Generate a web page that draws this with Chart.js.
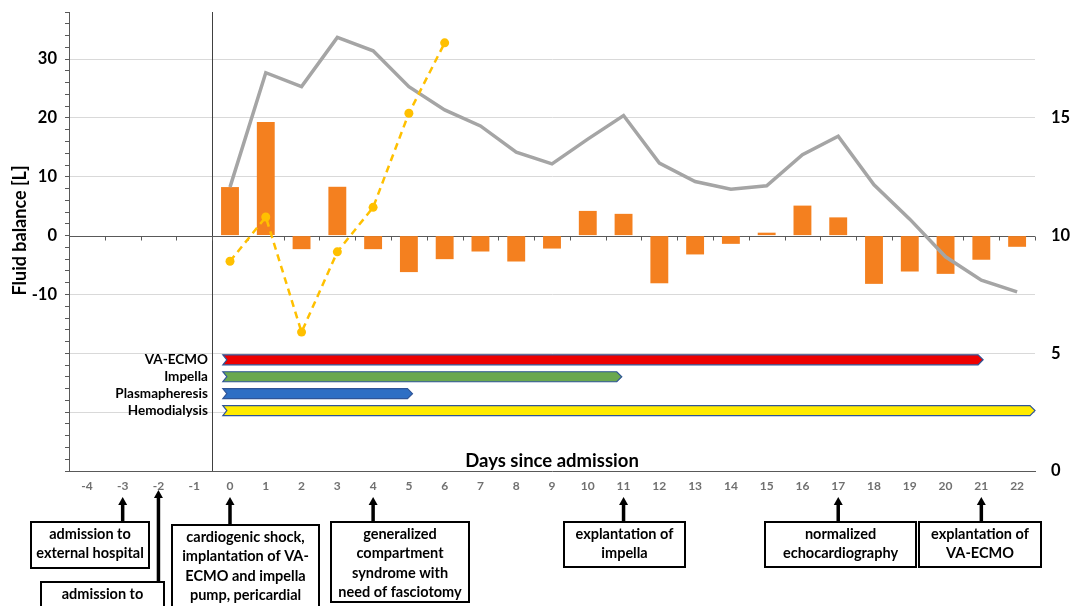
<!DOCTYPE html>
<html>
<head>
<meta charset="utf-8">
<script src="https://cdn.jsdelivr.net/npm/chart.js@4.4.1/dist/chart.umd.min.js"></script>
<style>
  html, body { margin: 0; padding: 0; background: #fff; }
  canvas { display: block; }
</style>
</head>
<body>
<canvas id="myChart" width="1071" height="606"></canvas>
<script>
// days since admission
const days = [-4, -3, -2, -1, 0, 1, 2, 3, 4, 5, 6, 7, 8, 9, 10, 11, 12, 13, 14, 15, 16, 17, 18, 19, 20, 21, 22];

// daily fluid balance [L] (left axis)
const fluidBalance = [null, null, null, null,
  8.25, 19.3, -2.3, 8.3, -2.3, -6.2, -4.0, -2.7, -4.4, -2.2, 4.2, 3.7,
  -8.1, -3.2, -1.4, 0.5, 5.1, 3.1, -8.2, -6.1, -6.5, -4.1, -1.9];

// grey line (right axis)
const greySeries = [null, null, null, null,
  12.06, 16.92, 16.33, 18.42, 17.85, 16.33, 15.34, 14.66, 13.55, 13.05, 14.1, 15.1,
  13.08, 12.3, 11.97, 12.12, 13.44, 14.22, 12.16, 10.7, 9.1, 8.11, 7.61];

// dashed yellow line (right axis)
const yellowSeries = [null, null, null, null,
  8.91, 10.79, 5.9, 9.31, 11.2, 15.2, 18.19, null, null, null, null, null,
  null, null, null, null, null, null, null, null, null, null, null];

// therapies shown as arrows (start / end in days)
const therapies = ["VA-ECMO", "Impella", "Plasmapheresis", "Hemodialysis"];
const therapyStart = [-0.2, -0.2, -0.2, -0.2];
const therapyEnd = [21.05, 10.95, 5.1, 22.5];
const therapyColors = ["#EE0000", "#6AA84F", "#2E6FC4", "#FFEB00"];

// events marked under the axis
const eventDays = [-3, -2, 0, 4, 11, 17, 21];
const eventText = [
  ["admission to", "external hospital"],
  ["admission to"],
  ["cardiogenic shock,", "implantation of VA-", "ECMO and impella", "pump, pericardial"],
  ["generalized", "compartment", "syndrome with", "need of fasciotomy"],
  ["explantation of", "impella"],
  ["normalized", "echocardiography"],
  ["explantation of", "VA-ECMO"]
];

// box layout for the event notes: left, top, width, height, arrow tip y
const eventBoxes = [
  [31, 522, 118, 46, 497],
  [41, 582, 123, 60, 490],
  [172, 525, 147, 100, 497],
  [331, 522, 138, 80, 497],
  [564, 522, 121, 45, 497],
  [765, 522, 151, 45, 497],
  [919, 522, 122, 45, 497]
];

Chart.defaults.font.family = "Lato, 'Open Sans', sans-serif";

function dayPixel(xs, d) {
  const i0 = days.indexOf(0);
  const step = xs.getPixelForValue(1) - xs.getPixelForValue(0);
  return xs.getPixelForValue(i0) + d * step;
}

const overlay = {
  id: "overlay",
  beforeDatasetsDraw(chart) {
    const ctx = chart.ctx;
    const xs = chart.scales.x;
    const ys = chart.scales.y;
    const area = chart.chartArea;
    const step = xs.getPixelForValue(1) - xs.getPixelForValue(0);

    ctx.save();
    // vertical line between day -1 and day 0
    const vx = Math.round(dayPixel(xs, -0.5)) + 0.5;
    ctx.strokeStyle = "#404040";
    ctx.lineWidth = 1;
    ctx.beginPath();
    ctx.moveTo(vx, area.top);
    ctx.lineTo(vx, area.bottom);
    ctx.stroke();

    // zero line with tick marks
    const zy = Math.round(ys.getPixelForValue(0)) + 0.5;
    ctx.strokeStyle = "#595959";
    ctx.beginPath();
    ctx.moveTo(area.left, zy);
    ctx.lineTo(area.right, zy);
    for (let i = 0; i <= days.length; i++) {
      const tx = Math.round(xs.getPixelForValue(0) - step / 2 + i * step) + 0.5;
      ctx.moveTo(tx, zy);
      ctx.lineTo(tx, zy + 4);
    }
    ctx.stroke();

    // axis titles
    ctx.fillStyle = "#000";
    ctx.font = "bold 18.5px Lato, sans-serif";
    ctx.textAlign = "center";
    ctx.textBaseline = "middle";
    ctx.fillText("Days since admission", (area.left + area.right) / 2, area.bottom - 10);

    ctx.save();
    ctx.translate(20, (area.top + area.bottom) / 2 - 11);
    ctx.rotate(-Math.PI / 2);
    ctx.font = "bold 18px Lato, sans-serif";
    ctx.fillText("Fluid balance [L]", 0, 0);
    ctx.restore();

    // therapy arrows
    therapies.forEach((name, i) => {
      const cy = ys.getPixelForValue(-21.1 - 2.88 * i);
      const h = 10;
      const x0 = dayPixel(xs, therapyStart[i]);
      const x1 = dayPixel(xs, therapyEnd[i]);
      ctx.beginPath();
      ctx.moveTo(x0, cy - h / 2);
      ctx.lineTo(x1 - 5, cy - h / 2);
      ctx.lineTo(x1, cy);
      ctx.lineTo(x1 - 5, cy + h / 2);
      ctx.lineTo(x0, cy + h / 2);
      ctx.lineTo(x0 + 4, cy);
      ctx.closePath();
      ctx.fillStyle = therapyColors[i];
      ctx.fill();
      ctx.strokeStyle = "#2F5597";
      ctx.lineWidth = 1.2;
      ctx.stroke();

      ctx.fillStyle = "#000";
      ctx.font = "bold 13.5px Lato, sans-serif";
      ctx.textAlign = "right";
      ctx.fillText(name, x0 - 15, cy);
    });
    ctx.restore();
  },
  afterDraw(chart) {
    const ctx = chart.ctx;
    const xs = chart.scales.x;
    ctx.save();
    eventDays.forEach((d, i) => {
      const [bx, by, bw, bh, tip] = eventBoxes[i];
      const ax = dayPixel(xs, d);
      // arrow
      ctx.strokeStyle = "#000";
      ctx.fillStyle = "#000";
      ctx.lineWidth = 3.5;
      ctx.beginPath();
      ctx.moveTo(ax, by);
      ctx.lineTo(ax, tip + 6);
      ctx.stroke();
      ctx.beginPath();
      ctx.moveTo(ax, tip);
      ctx.lineTo(ax - 4.5, tip + 8);
      ctx.lineTo(ax + 4.5, tip + 8);
      ctx.closePath();
      ctx.fill();
      // box
      ctx.fillStyle = "#fff";
      ctx.fillRect(bx, by, bw, bh);
      ctx.lineWidth = 2;
      ctx.strokeStyle = "#000";
      ctx.strokeRect(bx, by, bw, bh);
      // text
      ctx.fillStyle = "#000";
      ctx.font = "bold 14.5px Lato, sans-serif";
      ctx.textAlign = "center";
      ctx.textBaseline = "middle";
      eventText[i].forEach((line, j) => {
        ctx.fillText(line, bx + bw / 2, by + 12 + j * 19.5);
      });
    });
    ctx.restore();
  }
};

const config = {
  type: "bar",
  data: {
    labels: days,
    datasets: [
      {
        type: "line",
        data: yellowSeries,
        yAxisID: "y1",
        borderColor: "#FFC000",
        backgroundColor: "#FFC000",
        borderWidth: 2.5,
        borderDash: [7, 5],
        pointRadius: 4.5,
        pointBorderWidth: 0,
        pointBackgroundColor: "#FFC000",
        order: 0
      },
      {
        type: "line",
        data: greySeries,
        yAxisID: "y1",
        borderColor: "#A5A5A5",
        borderWidth: 3.5,
        pointRadius: 0,
        order: 1
      },
      {
        type: "bar",
        data: fluidBalance,
        yAxisID: "y",
        backgroundColor: "#F4801F",
        categoryPercentage: 0.5,
        barPercentage: 1,
        order: 2
      }
    ]
  },
  options: {
    responsive: false,
    animation: false,
    devicePixelRatio: 1,
    layout: { padding: { top: 12, left: 0, right: 0, bottom: 0 } },
    plugins: { legend: { display: false }, tooltip: { enabled: false } },
    scales: {
      x: {
        grid: { display: false },
        border: { display: true, color: "#595959", width: 1 },
        ticks: {
          color: "#707070",
          font: { size: 12, weight: "bold" },
          padding: 0,
          maxRotation: 0,
          autoSkip: false
        },
        afterFit(s) { s.height = 135; }
      },
      y: {
        position: "left",
        min: -40,
        max: 38,
        ticks: {
          stepSize: 2,
          includeBounds: false,
          autoSkip: false,
          color: "#000",
          font: { size: 16.5, weight: "bold" },
          padding: 8,
          callback: (v) => (v % 10 === 0 && v >= -10 && v <= 30 ? v : "")
        },
        grid: {
          color: (c) => (c.tick && c.tick.value % 10 === 0 && c.tick.value !== 0 && c.tick.value !== -40 ? "#D9D9D9" : "rgba(0,0,0,0)"),
          tickColor: "#595959",
          tickLength: 4
        },
        border: { color: "#595959" },
        afterFit(s) { s.width = 69; s.paddingTop = 0; s.paddingBottom = 0; }
      },
      y1: {
        position: "right",
        min: 0,
        max: 19.5,
        ticks: {
          stepSize: 5,
          includeBounds: false,
          color: "#000",
          font: { size: 16.5, weight: "bold" },
          padding: 16
        },
        grid: { display: false, drawTicks: false },
        border: { display: false },
        afterFit(s) { s.width = 36; s.paddingTop = 0; s.paddingBottom = 0; }
      }
    }
  },
  plugins: [overlay]
};

const myChart = new Chart(document.getElementById("myChart"), config);
</script>
</body>
</html>
